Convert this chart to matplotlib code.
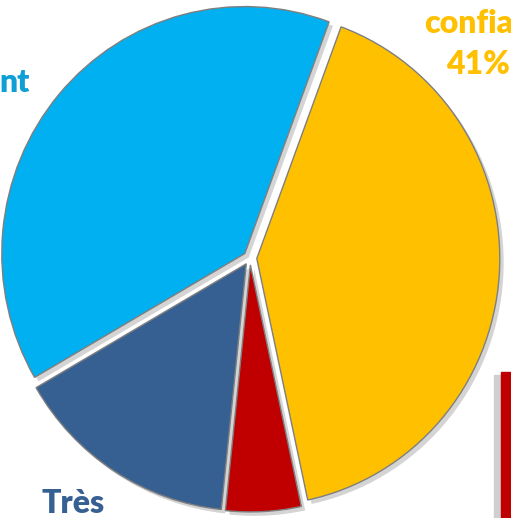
import matplotlib
matplotlib.use("Agg")
import matplotlib.pyplot as plt
from matplotlib.patches import Rectangle

# parts of the pie, clockwise from the top
parts = ["confiant", "pas du tout", "Très", "Assez"]
shares = [41, 5, 15, 39]
colours = ["#FFC000", "#C00000", "#376092", "#00B0F0"]

W, H = 511, 518
fig = plt.figure(figsize=(W / 100, H / 100), dpi=100)
ax = fig.add_axes([0, 0, 1, 1])

# shadow pie, a bit right and down
ax.pie(shares, startangle=69.7, counterclock=False, explode=[0.028] * 4,
       colors=["#d4d4d4"] * 4, center=(0.016, -0.016),
       wedgeprops=dict(linewidth=0))
ax.pie(shares, startangle=69.7, counterclock=False, explode=[0.028] * 4,
       colors=colours, wedgeprops=dict(edgecolor="#7f7f7f", linewidth=1.0))

# pie centre at about (250, 258) px, radius 243 px wide, 247 px tall
ax.set_aspect("auto")
ax.set_xlim(-250 / 243, (W - 250) / 243)
ax.set_ylim(-(H - 258) / 247, 258 / 247)
ax.axis("off")

font = dict(family=["Lato", "DejaVu Sans"], fontweight="heavy", fontsize=23)
fig.text(424 / W, 1 - 33 / H, "confia", color="#FFC000", ha="left",
         va="baseline", **font)
fig.text(510 / W, 1 - 74 / H, "41%", color="#FFC000", ha="right",
         va="baseline", **font)
fig.text(-1 / W, 1 - 92 / H, "nt", color="#0E9FD6", ha="left",
         va="baseline", **font)
fig.text(41 / W, 1 - 513 / H, "Très", color="#376092", ha="left",
         va="baseline", **font)

# red bar of the next chart, cut by the edge
fig.patches.append(Rectangle((494 / W, 0), 9 / W, 1 - 375 / H,
                             transform=fig.transFigure, color="#cfcfcf",
                             zorder=1))
fig.patches.append(Rectangle((501 / W, 0), 11 / W, 1 - 372 / H,
                             transform=fig.transFigure, color="#C00000",
                             zorder=2))

fig.savefig("out.png", dpi=100)
